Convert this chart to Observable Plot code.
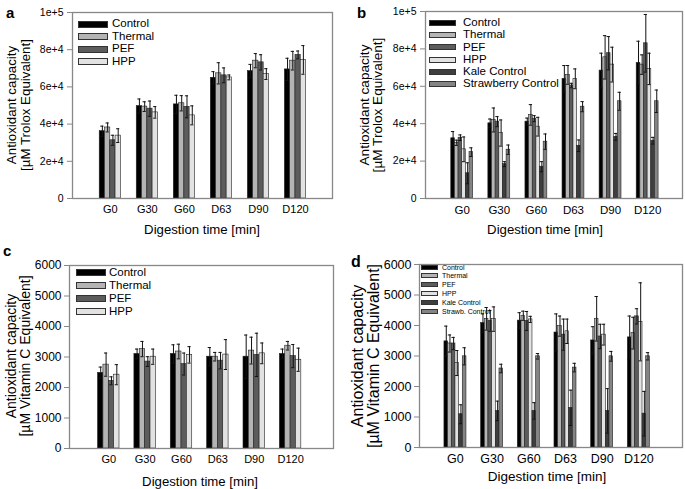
<!DOCTYPE html>
<html><head><meta charset="utf-8">
<script src="https://cdn.jsdelivr.net/npm/d3@7"></script>
<script src="https://cdn.jsdelivr.net/npm/@observablehq/plot@0.6"></script>
<style>
body{margin:0;background:#fff;}
#root{position:relative;width:685px;height:489px;overflow:hidden;font-family:"Liberation Sans",Arial,sans-serif;color:#000;background:#fff;}
.plot{position:absolute;}
.ytitle{position:absolute;transform:translate(-50%,-50%) rotate(-90deg);white-space:nowrap;text-align:center;}
.xtitle{position:absolute;transform:translate(-50%,-50%);white-space:nowrap;line-height:1;}
.letter{position:absolute;font-weight:bold;line-height:1;}
.row{position:absolute;display:flex;align-items:center;white-space:nowrap;line-height:1;}
.sw{box-sizing:border-box;border:1px solid #333;flex:none;}
</style></head><body><div id="root"></div>
<script>
// ---------- data ----------
const groups = ["G0", "G30", "G60", "D63", "D90", "D120"];
const series4 = ["Control", "Thermal", "PEF", "HPP"];
const series6 = ["Control", "Thermal", "PEF", "HPP", "Kale Control", "Strawberry Control"];
const legend6d = ["Control", "Thermal", "PEF", "HPP", "Kale Control", "Strawb. Control"];

// Panel a: Trolox, 4 treatments (rows = series, cols = groups)
const aMean = [
  [36200, 49700, 50600, 64900, 68500, 69400],
  [38200, 49400, 51200, 67300, 74100, 74100],
  [31300, 48300, 49300, 66200, 73200, 77200],
  [33800, 46300, 44700, 65100, 66900, 74500]
];
const aErr = [
  [2700, 3800, 4900, 3300, 3600, 6000],
  [2400, 2600, 4100, 5700, 3800, 5000],
  [2700, 4100, 5900, 4000, 4100, 2100],
  [3700, 3100, 5100, 1300, 2900, 7700]
];
// Panel b: Trolox, 6 series
const bMean = [
  [32200, 40200, 41100, 64000, 68400, 72500],
  [29800, 42000, 44700, 66100, 75500, 71600],
  [32500, 41100, 42700, 60400, 77700, 83000],
  [26300, 35000, 38400, 64000, 71600, 69300],
  [13500, 18400, 17000, 28200, 33000, 30900],
  [24800, 26100, 30400, 49100, 52000, 52000]
];
const bErr = [
  [3600, 2300, 1900, 7100, 9300, 11600],
  [1400, 6400, 5500, 5000, 11600, 5200],
  [1500, 2700, 1600, 1200, 8900, 15400],
  [6600, 7000, 5000, 5300, 9300, 8400],
  [5600, 1300, 2700, 3100, 1800, 1800],
  [2300, 2500, 4100, 2700, 4800, 6000]
];
// Panel c: Vitamin C, 4 treatments
const cMean = [
  [2480, 3100, 3100, 3010, 3010, 3100],
  [2750, 3260, 3180, 3010, 3210, 3370],
  [2220, 2850, 2770, 2880, 3070, 3030],
  [2420, 3010, 3070, 3080, 3120, 2910]
];
const cErr = [
  [190, 160, 300, 300, 710, 160],
  [380, 250, 240, 140, 440, 140],
  [130, 160, 360, 270, 710, 380],
  [330, 250, 270, 490, 340, 380]
];
// Panel d: Vitamin C, 6 series
const dMean = [
  [3480, 4080, 4160, 3770, 3510, 3610],
  [3410, 4220, 4320, 3980, 4220, 3750],
  [3410, 4150, 4150, 3700, 3640, 4300],
  [2770, 4210, 4200, 3810, 3700, 4120],
  [1090, 1200, 1200, 1300, 1200, 1110],
  [2990, 2590, 2990, 2620, 2990, 2990]
];
const dErr = [
  [500, 300, 260, 610, 450, 700],
  [280, 370, 150, 330, 730, 520],
  [200, 340, 310, 510, 400, 250],
  [410, 400, 100, 400, 340, 1280],
  [310, 320, 270, 580, 730, 730],
  [280, 140, 90, 140, 160, 120]
];

const troloxTicks = [0, 20000, 40000, 60000, 80000, 100000];
const troloxLabels = ["0", "2e+4", "4e+4", "6e+4", "8e+4", "1e+5"];
const vitcTicks = [0, 1000, 2000, 3000, 4000, 5000, 6000];
const vitcLabels = ["0", "1000", "2000", "3000", "4000", "5000", "6000"];

const xTitle = "Digestion time [min]";
const yTitleLine1 = "Antioxidant capacity";
const troloxUnit = "[µM Trolox Equivalent]";
const vitcUnit = "[µM Vitamin C Equivalent]";

// ---------- styles ----------
const fills = {
  "Control": "#000000", "Thermal": "#b4b4b4", "PEF": "#5c5c5c",
  "HPP": "#e2e2e2", "Kale Control": "#3e3e3e", "Strawberry Control": "#848484"
};
const FONT = '"Liberation Sans", Arial, sans-serif';
const root = document.getElementById("root");

// group index j on a linear x scale; each series takes an equal slice of the group width
function rowsFor(series, mean, err, gw) {
  const n = series.length, w = gw / n;
  const rows = [];
  series.forEach((s, i) => groups.forEach((g, j) => {
    const x1 = j - gw / 2 + i * w;
    rows.push({group: g, series: s, value: mean[i][j], err: err[i][j], x1, x2: x1 + w, xc: x1 + w / 2, w});
  }));
  return rows;
}

function el(cls, css, html) {
  const d = document.createElement("div");
  d.className = cls;
  Object.assign(d.style, css);
  if (html != null) d.innerHTML = html;
  root.appendChild(d);
  return d;
}

function panel(L, series, mean, err, ymax, ticks, labels, unit, legendNames) {
  const rows = rowsFor(series, mean, err, L.gw);
  const capIn = d => d.w * L.cap;
  const chart = Plot.plot({
    width: L.w, height: L.h,
    marginLeft: L.ml, marginRight: L.mr, marginTop: L.mt, marginBottom: L.mb,
    style: {fontFamily: FONT, background: "transparent", color: "#000", overflow: "visible"},
    x: {domain: [-L.lg, groups.length - 1 + L.rg], label: null},
    y: {domain: [0, ymax], label: null},
    color: {domain: series, range: series.map(s => fills[s])},
    marks: [
      Plot.rectY(rows, {x1: "x1", x2: "x2", y: "value", fill: "series", stroke: "#222", strokeWidth: 0.6}),
      Plot.ruleX(rows, {x: "xc", y1: d => d.value - d.err, y2: d => d.value + d.err, stroke: "#111", strokeWidth: 1}),
      Plot.ruleY(rows, {y: d => d.value + d.err, x1: d => d.xc - d.w / 2 + capIn(d), x2: d => d.xc + d.w / 2 - capIn(d), stroke: "#111", strokeWidth: 1}),
      Plot.ruleY(rows, {y: d => d.value - d.err, x1: d => d.xc - d.w / 2 + capIn(d), x2: d => d.xc + d.w / 2 - capIn(d), stroke: "#111", strokeWidth: 1}),
      Plot.axisY({ticks: ticks, tickFormat: d => labels[ticks.indexOf(d)], tickSize: 5, tickPadding: L.ytp, stroke: "#888", fill: "#000", fontSize: L.yfs, label: null}),
      Plot.axisX({ticks: d3.range(groups.length), tickFormat: i => groups[i], tickSize: 0, tickPadding: L.xtp, fontSize: L.xfs, label: null, fill: "#000"}),
      Plot.frame({stroke: "#888", strokeWidth: 1.3})
    ]
  });
  const wrap = el("plot", {left: L.x + "px", top: L.y + "px", width: L.w + "px", height: L.h + "px"});
  wrap.appendChild(chart);

  // axis titles and panel letter
  el("ytitle", {left: L.ytx + "px", top: L.yty + "px", fontSize: L.ytfs + "px", lineHeight: L.ytlh + "px"},
     yTitleLine1 + "<br>" + unit);
  el("xtitle", {left: L.xtx + "px", top: L.xty + "px", fontSize: L.xtfs + "px"}, xTitle);
  el("letter", {left: L.lx + "px", top: L.ly + "px", fontSize: L.lfs + "px"}, L.letter);

  // legend
  legendNames.forEach((name, i) => {
    const r = el("row", {left: L.legX + "px", top: (L.legY + i * L.legDy) + "px", fontSize: L.legFs + "px", height: "0px"});
    const sw = document.createElement("div");
    sw.className = "sw";
    Object.assign(sw.style, {width: L.swW + "px", height: L.swH + "px", background: fills[series[i]], marginRight: L.swGap + "px", borderWidth: L.swB + "px"});
    r.appendChild(sw);
    const t = document.createElement("span");
    t.textContent = name;
    r.appendChild(t);
  });
}

panel({x: 0, y: 0, w: 342, h: 244, ml: 72, mr: 10, mt: 12, mb: 46, lg: 1.02, rg: 1.0, gw: 0.57, cap: 0.2,
       ytp: 4, yfs: 10.5, xtp: 7, xfs: 11, ytx: 18, yty: 105, ytfs: 13.3, ytlh: 13.5,
       xtx: 202, xty: 230, xtfs: 13.2, lx: 6, ly: 5, lfs: 15, letter: "a",
       legX: 78, legY: 24, legDy: 12.6, legFs: 11.5, swW: 30, swH: 7, swGap: 4, swB: 1},
      series4, aMean, aErr, 100000, troloxTicks, troloxLabels, troloxUnit, series4);

panel({x: 342, y: 0, w: 343, h: 244, ml: 83, mr: 3, mt: 11, mb: 46, lg: 0.99, rg: 0.94, gw: 0.59, cap: 0.05,
       ytp: 4, yfs: 10.5, xtp: 7, xfs: 11.5, ytx: 371, yty: 105, ytfs: 13.6, ytlh: 13,
       xtx: 545, xty: 230, xtfs: 13.2, lx: 357, ly: 5, lfs: 15, letter: "b",
       legX: 429, legY: 23, legDy: 12.2, legFs: 11.5, swW: 27, swH: 6, swGap: 7, swB: 1},
      series6, bMean, bErr, 100000, troloxTicks, troloxLabels, troloxUnit, series6);

panel({x: 0, y: 244, w: 342, h: 245, ml: 69, mr: 9, mt: 21, mb: 41, lg: 1.08, rg: 1.18, gw: 0.59, cap: 0.2,
       ytp: 3, yfs: 12, xtp: 7, xfs: 11, ytx: 17.5, yty: 356, ytfs: 14, ytlh: 13.5,
       xtx: 200, xty: 482, xtfs: 13.2, lx: 3, ly: 243, lfs: 15, letter: "c",
       legX: 76, legY: 272.7, legDy: 13, legFs: 11.5, swW: 30, swH: 7, swGap: 3, swB: 1},
      series4, cMean, cErr, 6000, vitcTicks, vitcLabels, vitcUnit, series4);

panel({x: 342, y: 244, w: 343, h: 245, ml: 77, mr: 3, mt: 20, mb: 42, lg: 0.98, rg: 1.19, gw: 0.6, cap: 0.05,
       ytp: 3, yfs: 12.5, xtp: 7, xfs: 12.5, ytx: 365, yty: 356, ytfs: 16, ytlh: 15.5,
       xtx: 547, xty: 477, xtfs: 13.5, lx: 351, ly: 254, lfs: 16, letter: "d",
       legX: 421, legY: 267, legDy: 8.8, legFs: 7, swW: 17, swH: 5, swGap: 4, swB: 0.8},
      series6, dMean, dErr, 6000, vitcTicks, vitcLabels, vitcUnit, legend6d);
</script>
</body></html>
